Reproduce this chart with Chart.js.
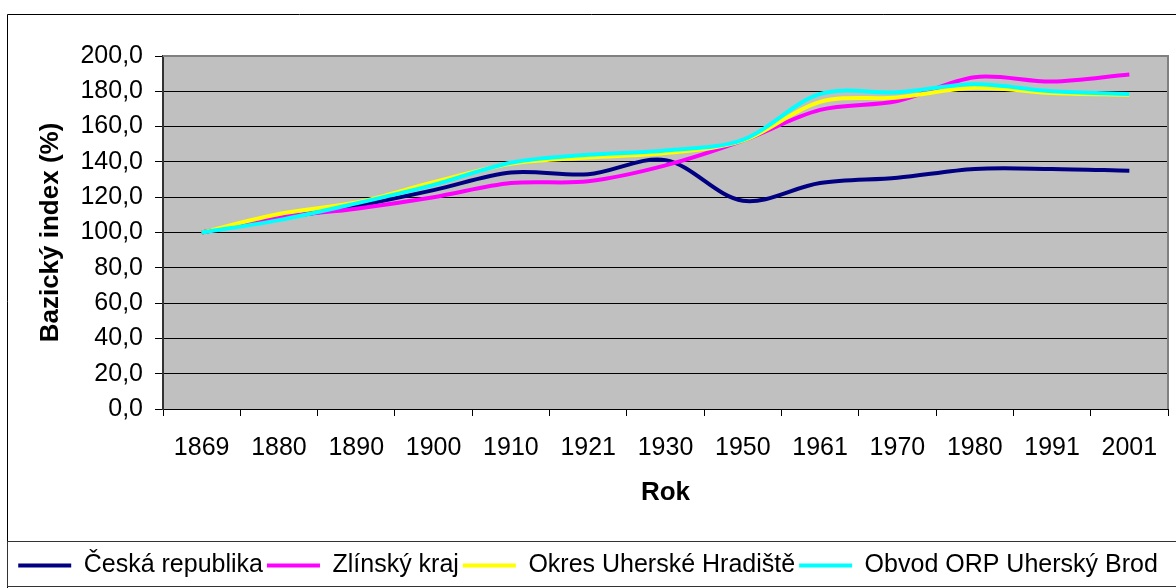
<!DOCTYPE html>
<html>
<head>
<meta charset="utf-8">
<script src="https://cdn.jsdelivr.net/npm/chart.js@4.4.1/dist/chart.umd.min.js"></script>
<style>
  html, body { margin: 0; padding: 0; background: #fff; }
  #wrap { width: 1176px; height: 588px; }
</style>
</head>
<body>
<div id="wrap"><canvas id="myChart" width="1176" height="588"></canvas></div>
<script>
// census years (category axis)
var years = ['1869', '1880', '1890', '1900', '1910', '1921', '1930', '1950', '1961', '1970', '1980', '1991', '2001'];

// base index, 1869 = 100
var ceskaRepublika = [100, 108, 115, 124, 134, 133, 141, 118, 128, 131, 136, 136, 135];
var zlinskyKraj = [100, 108.5, 113.5, 120, 128, 129, 138, 152, 169.5, 174.5, 188, 185.5, 189.5];
var okresUH = [100, 110.5, 117, 128.5, 139, 142.5, 145, 152, 174, 176.5, 182, 179, 178];
var obvodUB = [100, 107, 116.5, 127, 139.5, 144, 146.5, 152.5, 178.5, 179.5, 184, 180, 178.5];

var seriesNames = ['Česká republika', 'Zlínský kraj', 'Okres Uherské Hradiště', 'Obvod ORP Uherský Brod'];
var seriesColors = ['#000080', '#FF00FF', '#FFFF00', '#00FFFF'];

var yMin = 0;
var yMax = 200;
var yStep = 20;

var fontFamily = '"Liberation Sans", Arial, sans-serif';

// gray plot area, like the old excel charts
var plotBackground = {
  id: 'plotBackground',
  beforeDraw: function(chart) {
    var a = chart.chartArea;
    var c = chart.ctx;
    c.save();
    c.fillStyle = '#C0C0C0';
    c.fillRect(a.left, a.top, a.right - a.left, a.bottom - a.top);
    c.restore();
  },
  beforeDatasetsDraw: function(chart) {
    var a = chart.chartArea;
    var c = chart.ctx;
    c.save();
    c.strokeStyle = '#808080';
    c.lineWidth = 2;
    c.beginPath();
    c.moveTo(a.left, a.top);
    c.lineTo(a.right, a.top);
    c.lineTo(a.right, a.bottom);
    c.stroke();
    c.restore();
  }
};

// outer frame + box around the legend
var frames = {
  id: 'frames',
  afterDraw: function(chart) {
    var c = chart.ctx;
    var lg = chart.legend;
    var boxTop = Math.round(lg.top) - 8;
    c.save();
    c.strokeStyle = '#000';
    c.lineWidth = 1;
    c.beginPath();
    c.moveTo(7.5, chart.height);
    c.lineTo(7.5, 14.5);
    c.lineTo(chart.width, 14.5);
    c.stroke();
    c.strokeStyle = '#333';
    c.strokeRect(7.5, boxTop + 0.5, chart.width + 10, chart.height - boxTop - 2);
    c.restore();
  }
};

var datasets = [];
for (let i = 0; i < seriesNames.length; i++) {
  datasets.push({
    label: seriesNames[i],
    data: [ceskaRepublika, zlinskyKraj, okresUH, obvodUB][i],
    borderColor: seriesColors[i],
    backgroundColor: seriesColors[i],
    borderWidth: 4,
    pointRadius: 0,
    tension: 0.33,
    fill: false,
    order: seriesNames.length - 1 - i
  });
}

var ctx = document.getElementById('myChart').getContext('2d');
var myChart = new Chart(ctx, {
  type: 'line',
  data: { labels: years, datasets: datasets },
  plugins: [plotBackground, frames],
  options: {
    responsive: false,
    animation: false,
    layout: { padding: { top: 56, left: 8, right: 8, bottom: 0 } },
    plugins: {
      tooltip: { enabled: false },
      legend: {
        position: 'bottom',
        labels: {
          usePointStyle: true,
          pointStyle: 'line',
          pointStyleWidth: 53,
          color: '#000',
          font: { family: fontFamily, size: 25 },
          padding: 4,
          sort: function(a, b) { return a.datasetIndex - b.datasetIndex; }
        }
      }
    },
    scales: {
      x: {
        offset: true,
        afterFit: function(scale) { scale.height = 140; },
        grid: { display: true, drawOnChartArea: false, offset: true, tickLength: 7, color: '#000' },
        border: { display: true, color: '#000', width: 1 },
        ticks: { color: '#000', font: { family: fontFamily, size: 25 }, padding: 17, maxRotation: 0, autoSkip: false },
        title: { display: true, text: 'Rok', color: '#000', font: { family: fontFamily, size: 26, weight: 'bold' }, padding: { top: 0, bottom: 41 } }
      },
      y: {
        min: yMin,
        max: yMax,
        afterFit: function(scale) { scale.width = 155; },
        grid: {
          color: function(c) { return c.tick && c.tick.value === yMax ? '#808080' : '#000'; },
          tickColor: '#000',
          tickLength: 8,
          lineWidth: 1
        },
        border: { display: true, color: '#333', width: 2 },
        ticks: {
          stepSize: yStep,
          autoSkip: false,
          color: '#000',
          padding: 12,
          font: { family: fontFamily, size: 25 },
          callback: function(v) { return v.toFixed(1).replace('.', ','); }
        },
        title: { display: true, text: 'Bazický index (%)', color: '#000', font: { family: fontFamily, size: 26, weight: 'bold' }, padding: { top: 27, bottom: 0 } }
      }
    }
  }
});
</script>
</body>
</html>
